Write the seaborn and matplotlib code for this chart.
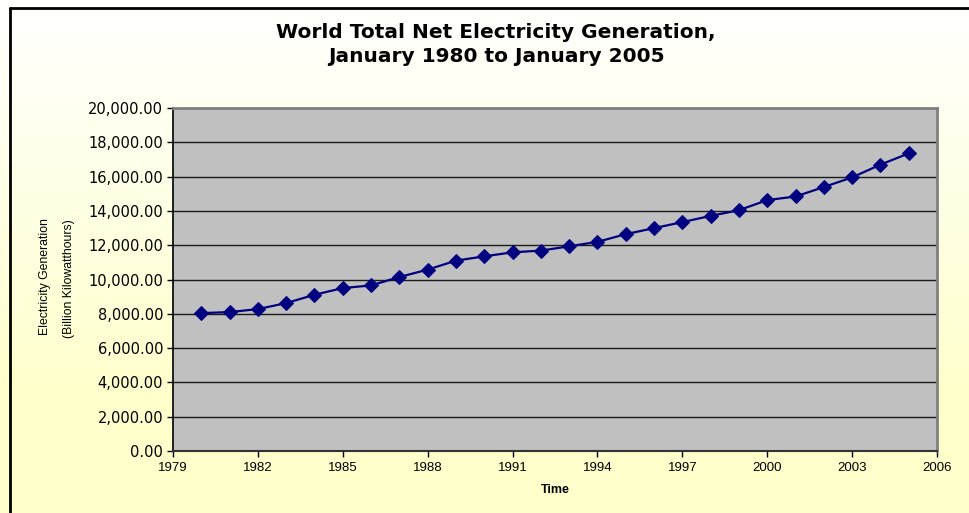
import numpy as np
import pandas as pd
import matplotlib
matplotlib.use("Agg")
import matplotlib.pyplot as plt
from matplotlib.ticker import FuncFormatter
from matplotlib.lines import Line2D
import seaborn as sns

# data
years = list(range(1980, 2006))
generation = [8040, 8100, 8275, 8625, 9110, 9500, 9655, 10145, 10575, 11100,
              11350, 11585, 11685, 11935, 12195, 12645, 12995, 13345, 13710, 14040,
              14630, 14840, 15390, 15955, 16695, 17355]
x_ticks = list(range(1979, 2007, 3))
y_ticks = list(range(0, 20001, 2000))

df = pd.DataFrame({"Year": years, "Generation": generation})

sns.set_style("ticks")
plt.rcParams["font.family"] = ["DejaVu Sans"]
plt.rcParams["text.color"] = "black"
plt.rcParams["xtick.color"] = "black"
plt.rcParams["ytick.color"] = "black"
plt.rcParams["axes.labelcolor"] = "black"

fig = plt.figure(figsize=(9.69, 5.13), dpi=100)

# pale yellow gradient background
bg = fig.add_axes([0, 0, 1, 1], zorder=0)
grad = np.linspace(0, 1, 256).reshape(-1, 1)
top = np.array([1.0, 1.0, 1.0])
bottom = np.array([1.0, 1.0, 0.80])
frac = np.clip(grad * 1.3, 0, 1)
img = top + (bottom - top) * frac[:, :, None]
bg.imshow(img, aspect="auto", extent=[0, 1, 0, 1], origin="upper")
bg.set_xlim(0, 1)
bg.set_ylim(0, 1)
bg.axis("off")

# black frame at top and left
fig.add_artist(Line2D([9.5 / 969, 1], [1 - 8 / 513, 1 - 8 / 513], color="black", lw=2, transform=fig.transFigure))
fig.add_artist(Line2D([9.5 / 969, 9.5 / 969], [0, 1 - 8 / 513], color="black", lw=2, transform=fig.transFigure))

ax = fig.add_axes([173 / 969, 1 - 451 / 513, (937 - 173) / 969, (451 - 108) / 513], zorder=1)
ax.set_facecolor("#C0C0C0")

sns.lineplot(data=df, x="Year", y="Generation", ax=ax, color="#000080", lw=1.6,
             marker="D", markersize=7.5, markeredgecolor="#000080", zorder=3)

ax.set_xlim(1979, 2006)
ax.set_ylim(0, 20000)
ax.set_xticks(x_ticks)
ax.set_yticks(y_ticks)
ax.yaxis.set_major_formatter(FuncFormatter(lambda v, p: f"{v:,.2f}"))
ax.grid(axis="y", color="#1a1a1a", lw=1)
ax.grid(axis="x", visible=False)
ax.set_axisbelow(True)

ax.tick_params(axis="both", direction="out", length=4, width=1, color="black", pad=3)
ax.tick_params(axis="y", labelsize=10.5)
ax.tick_params(axis="x", labelsize=9.5, labelfontfamily="Liberation Sans", pad=4)

for side in ["top", "right"]:
    ax.spines[side].set_visible(True)
    ax.spines[side].set_color("#808080")
    ax.spines[side].set_linewidth(2)
ax.spines["left"].set_color("black")
ax.spines["bottom"].set_color("#333333")
ax.spines["left"].set_linewidth(1.2)
ax.spines["bottom"].set_linewidth(1.5)

ax.set_xlabel("Time", fontsize=9, fontweight="bold", family="Liberation Sans", labelpad=7)
ax.set_ylabel("")

fig.text(45 / 969, 1 - 277 / 513, "Electricity Generation", rotation=90, fontsize=8.8,
         family="Liberation Sans", ha="center", va="center")
fig.text(69 / 969, 1 - 279 / 513, "(Billion Kilowatthours)", rotation=90, fontsize=8.8,
         family="Liberation Sans", ha="center", va="center")

fig.text(496 / 969, 1 - 33 / 513, "World Total Net Electricity Generation,", fontsize=14.5,
         fontweight="bold", ha="center", va="center")
fig.text(496 / 969, 1 - 57 / 513, "January 1980 to January 2005", fontsize=14.5,
         fontweight="bold", ha="center", va="center")

fig.savefig("out.png", dpi=100)
plt.close(fig)
